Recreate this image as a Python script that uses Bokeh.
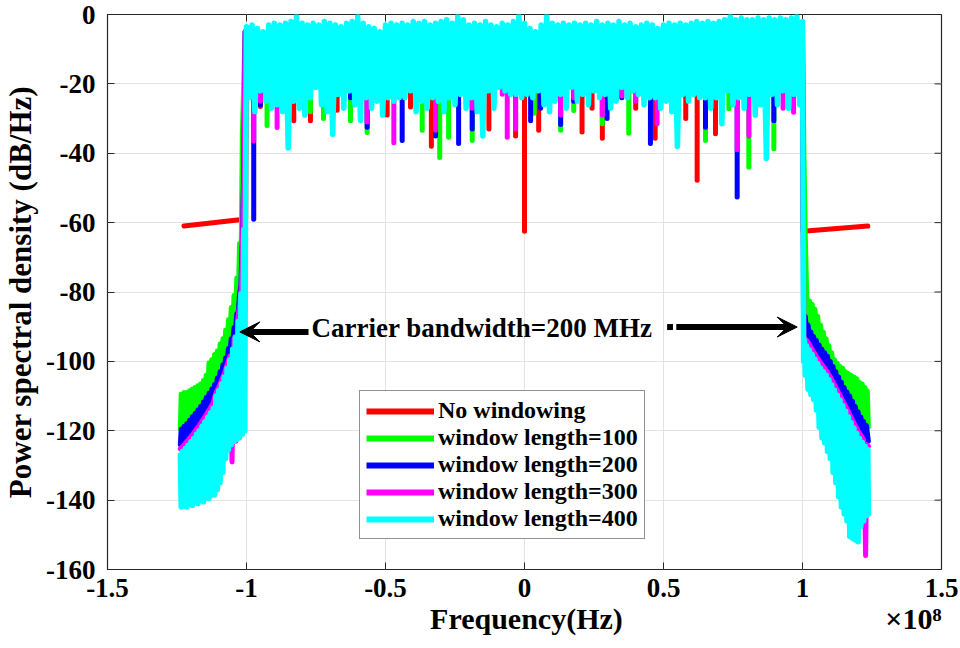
import numpy as np
from bokeh.plotting import figure
from bokeh.models import (Range1d, FixedTicker, Legend, LegendItem,
                          Label, Arrow, VeeHead, ColumnDataSource)
from bokeh.embed import file_html
from bokeh.resources import INLINE

# ---------------- data (frequency in MHz, PSD in dB/Hz) ----------------
x_ticks_hz = [-1.5e8, -1.0e8, -0.5e8, 0.0, 0.5e8, 1.0e8, 1.5e8]
x_tick_labels = ["-1.5", "-1", "-0.5", "0", "0.5", "1", "1.5"]
y_ticks = [-160, -140, -120, -100, -80, -60, -40, -20, 0]
y_tick_labels = ["-160", "-140", "-120", "-100", "-80", "-60", "-40", "-20", "0"]
x_label_text = "Frequency(Hz)"
x_exponent_text = "\u00d710\u2078"

series_names = ["No windowing", "window length=100", "window length=200",
                "window length=300", "window length=400"]
series_colors = ["#ff0000", "#00ff00", "#0000ff", "#ff00ff", "#00ffff"]

notch_top_db = -8.0

# No windowing (red)
red_left_f = [-122.5, -102.5, -100.3, -100.0]
red_left_db = [-61.0, -59.2, -59.0, -5.0]
red_right_f = [99.9, 100.2, 123.5]
red_right_db = [-5.0, -62.5, -61.0]
red_dip_f = [-95, -83, -77, -67.4, -49.4, -41, -33.5, -12.8, -3.2, 0, 5.1, 20.7,
             24.3, 28, 40, 47, 58, 62.1, 68.7]
red_dip_db = [-26.5, -30.6, -30.6, -27.6, -29, -26.7, -38, -33, -35, -62.5, -33.4,
              -33.9, -27, -35.7, -27, -35.7, -30, -47.8, -34.4]

# window length = 100 (green)
green_left_f = [-123.8, -123.5, -123, -122.5, -122, -121.5, -121, -120.5, -120, -119.5,
                -119, -118.5, -118, -117.5, -117, -116.5, -116, -115.5, -115, -114.5,
                -114, -113.5, -113, -112.5, -112, -111.5, -111, -110.5, -110, -109.5,
                -109, -108.5, -108, -107.5, -107, -106.5, -106, -105.5, -105, -104.5,
                -104, -103.5, -103, -102.5, -102, -101.5, -101, -100.5]
green_left_db = [-119.5, -109.5, -119, -109, -118.5, -109, -117.5, -108.5, -117, -108,
                 -115.5, -107.5, -115, -107, -113.5, -106.5, -112.5, -105.5, -111, -104,
                 -110, -100.5, -108, -99.5, -107, -98, -105.5, -97, -104, -95,
                 -102, -93.5, -100, -91, -97.5, -88, -95, -84.5, -92, -81,
                 -88.5, -76, -84, -66, -76, -35, -20, -5]
green_right_f = [100.0, 100.5, 101.0, 101.5, 102, 102.5, 103, 103.5, 104, 104.5, 105,
                 105.5, 106, 106.5, 107, 107.5, 108, 108.5, 109, 109.5, 110, 110.5, 111,
                 111.5, 112, 112.5, 113, 113.5, 114, 114.5, 115, 115.5, 116, 116.5, 117,
                 117.5, 118, 118.5, 119, 119.5, 120, 120.5, 121, 121.5, 122, 122.5, 123,
                 123.3, 123.7]
green_right_db = [-5, -40, -64, -80, -89, -82.5, -91, -83.5, -93, -85, -94,
                  -87, -95.5, -89.5, -96.5, -91.5, -97.5, -93.5, -98.5, -95.5, -100, -97.5,
                  -101.5, -99.5, -103, -100.5, -104.5, -101.5, -106, -102, -107.5, -103,
                  -109, -103.5, -110, -104, -111.5, -104.5, -113, -105, -114.5, -106, -116,
                  -106.5, -117, -107.5, -118.5, -108.5, -119]
green_dip_f = [-92.6, -77, -72.3, -62.6, -56.6, -36.8, -30.5, -27.3, -18.8, 3.5, 13,
               17.7, 28, 37.5, 65.1, 73.5, 80.7, 89.7]
green_dip_db = [-32, -28, -30, -30.6, -34, -33.4, -41.2, -35.4, -36.3, -28.5, -33.4,
                -27.7, -31.5, -34.2, -36.3, -27.2, -44, -38.7]

# window length = 200 (blue)
blue_left_f = [-123.8, -123.5, -123, -122.5, -122, -121.5, -121, -120.5, -120, -119.5,
               -119, -118.5, -118, -117.5, -117, -116.5, -116, -115.5, -115, -114.5,
               -114, -113.5, -113, -112.5, -112, -111.5, -111, -110.5, -110, -109.5,
               -109, -108.5, -108, -107.5, -107, -106.5, -106, -105.5, -105, -104.5,
               -104, -103.5, -103, -102.5, -102, -101.5, -101, -100.5]
blue_left_db = [-124, -119.6, -123.3, -118.8, -122.4, -118, -121.5, -117, -120.5, -116,
                -119.5, -115, -118.3, -114, -117.3, -113, -116, -111.7, -114.8, -110.4,
                -113.5, -109.2, -112.2, -108, -110.8, -106.7, -108, -104.8, -106.5, -103,
                -104.5, -101, -102.5, -99, -100, -96.3, -97.5, -93.5, -94.5, -90.3,
                -91, -86.3, -86.5, -80.5, -78, -65, -45, -5]
blue_right_f = [100.0, 100.4, 101, 101.5, 102, 102.5, 103, 103.5, 104, 104.5, 105, 105.5,
                106, 106.5, 107, 107.5, 108, 108.5, 109, 109.5, 110, 110.5, 111, 111.5,
                112, 112.5, 113, 113.5, 114, 114.5, 115, 115.5, 116, 116.5, 117, 117.5,
                118, 118.5, 119, 119.5, 120, 120.5, 121, 121.5, 122, 122.5, 123, 123.7]
blue_right_db = [-5, -97, -87, -92, -89.5, -93.5, -91.5, -95, -92.8, -96.5, -94, -97.8,
                 -95.3, -99, -96.5, -100, -97.5, -101.2, -98.5, -102.5, -100, -104, -101.5,
                 -105.5, -103, -107, -104.5, -108.5, -106, -110.2, -107.5, -111.8, -108.8,
                 -113.3, -110, -114.8, -111.5, -116.5, -113, -118, -114.5, -119.5, -116,
                 -120.7, -117.3, -122, -118.5, -123]
blue_dip_f = [-97.4, -95, -82, -62.6, -56.6, -44, -32, -23.7, -18.8, 2.2, 5.8, 13, 17.7,
              29.7, 35, 45.3, 65.1, 76.5, 89.7]
blue_dip_db = [-59, -26, -23, -24, -32.5, -36.3, -35, -37.2, -33, -30.6, -27, -31.7, -25,
               -30, -24, -37.2, -32.5, -52.6, -30.6]

# window length = 300 (magenta)
magenta_left_f = [-123.8, -123, -122, -121, -120, -119, -118, -117, -116, -115, -114,
                  -113, -112, -111, -110, -109, -108, -107, -106, -105.2, -104.5, -103.8,
                  -103.2, -102.5, -102, -101.5, -101, -100.5]
magenta_left_db = [-125.2, -124.5, -123.6, -122.7, -121.7, -120.7, -119.5, -118.5, -117.2,
                   -116, -114.7, -113.4, -112, -109, -107.5, -105.5, -103.5, -101, -98.5,
                   -129, -93.5, -123, -88, -84, -80, -68, -48, -5]
magenta_right_f = [100.0, 100.5, 102, 104, 106, 108, 110, 112, 114, 116, 118, 120, 122,
                   122.7, 123.2, 123.7]
magenta_right_db = [-5, -93, -94.5, -97.3, -99.8, -102, -104.5, -107.5, -110.6, -113.7,
                    -117, -120, -122.6, -156, -124, -124.5]
magenta_dip_f = [-97.4, -95, -89, -56.6, -47, -32, -18.8, -8, -6.2, -3.2, 13, 17.7, 28,
                 35, 40, 47.7, 76.5, 80.7, 93, 96.8]
magenta_dip_db = [-36.5, -25, -32.6, -31, -37, -33.4, -27, -23, -35.4, -33, -29, -24, -29,
                  -23.5, -25, -31.5, -39, -35, -27, -28.2]

# window length = 400 (cyan)
cyan_left_f = [-123.8, -123.5, -123, -122.5, -122, -121.5, -121, -120.5, -120, -119.5,
               -119, -118.5, -118, -117.5, -117, -116.5, -116, -115.5, -115, -114.5,
               -114, -113.5, -113, -112.5, -112, -111.5, -111, -110.5, -110, -109.5,
               -109, -108.5, -108, -107.5, -107, -106.5, -106, -105.5, -105, -104.5,
               -104, -103.5, -103, -102.5, -102, -101.5, -101, -100.6, -100.3]
cyan_left_db = [-127, -142, -126, -141.5, -125.1, -142, -124.2, -141, -123.2, -141.5,
                -122.2, -140.5, -121, -141, -120, -140, -118.7, -140.5, -117.5, -139.5,
                -116.2, -139.5, -114.9, -138.5, -113.5, -138.5, -110, -137, -108.5, -135,
                -106.5, -132, -104.5, -128, -102, -125.5, -99.5, -124, -96.5, -123,
                -93, -122.5, -88.5, -122, -80.5, -121, -62, -120, -40]
cyan_band_f = list(range(-100, 101))
cyan_band_db = [
    -3.5, -24, -3, -28, -4, -22, -5, -25, -3, -27,
    -2.5, -26, -3, -28, -2.5, -38.5, -2, -25, -0.5, -27,
    -2.5, -29, -3, -24, -2.5, -21, -3, -26, -2, -28,
    -2.5, -34.5, -3, -23, -3.5, -27, -2.5, -22, -2, -26,
    -0.5, -30.5, -2.5, -24, -3.5, -27, -4, -25, -5, -29,
    -3, -24, -2.5, -25, -3, -24, -2.5, -24, -3, -22,
    -2, -28, -2.5, -25, -2, -27, -3, -24, -2.5, -25,
    -2, -28, -1.5, -24, -2.5, -26, -0.5, -23, -1.5, -27,
    -3, -24, -2.5, -28, -3, -35, -2, -22, -3, -27,
    -3.5, -21, -2.5, -22, -3, -23, -2, -23, -0.5, -24,
    -2.5, -23, -4, -24, -5, -22, -3, -26, -0.5, -28,
    -2.5, -25, -3, -23, -2.5, -27, -3, -21, -2.5, -25,
    -3, -23, -2.5, -26, -3, -22, -2, -24, -3, -23,
    -2.5, -27, -3, -25, -2, -21, -3, -24, -2.5, -22,
    -3.5, -23, -3, -26, -2.5, -24, -3, -24, -4, -27,
    -3, -25, -2.5, -28, -3, -38, -2.5, -23, -3, -25,
    -2.5, -23, -2, -24, -2.5, -24, -2, -27, -2.5, -24,
    -2, -31.5, -1.5, -22, -0.5, -26, -1.5, -24, -1, -27,
    -1.5, -23, -1.5, -29, -1, -26, -1.5, -41.5, -1, -23,
    -1.5, -26, -1, -22, -1.5, -27, -1, -23, -0.5, -26,
    -2,
]
cyan_right_f = [100.4, 100.7, 101, 101.5, 102, 102.5, 103, 103.5, 104, 104.5, 105, 105.5,
                106, 106.5, 107, 107.5, 108, 108.5, 109, 109.5, 110, 110.5, 111, 111.5,
                112, 112.5, 113, 113.5, 114, 114.5, 115, 115.5, 116, 116.5, 117, 117.5,
                118, 118.5, 119, 119.5, 120, 120.5, 121, 121.5, 122, 122.5, 123, 123.5,
                123.7]
cyan_right_db = [-100, -94, -104, -95.5, -108, -96.7, -109.5, -98, -111, -99.4, -114,
                 -100.7, -119, -102, -122, -103, -123.5, -104, -126, -105.3, -128, -106.8,
                 -132, -108.3, -135, -109.8, -139, -111.2, -142, -112.8, -144, -114.4,
                 -146, -116, -150.5, -117.7, -151, -119.3, -151.5, -120.8, -152, -122.2,
                 -147.5, -123.4, -146, -124.5, -144.5, -125.5, -144]

# ---------------- figure ----------------
FONT = "Liberation Serif"
MHZ = 1e6
LW = 5
AXC = "#262626"
NBSP = "\u00a0"

p = figure(width=960, height=648, x_range=Range1d(-1.5e8, 1.5e8),
           y_range=Range1d(-160, 0), output_backend="svg", toolbar_location=None,
           min_border_left=107, min_border_right=19, min_border_top=14,
           min_border_bottom=79, background_fill_color="white",
           border_fill_color="white")

p.outline_line_color = AXC
p.outline_line_width = 1.2

for ax in (p.xaxis, p.yaxis):
    ax.axis_line_color = None
    ax.major_tick_in = 7
    ax.major_tick_out = 0
    ax.minor_tick_line_color = None
    ax.major_tick_line_color = AXC
    ax.major_label_text_font = FONT
    ax.major_label_text_font_style = "bold"
    ax.major_label_text_font_size = "27px"
    ax.major_label_text_color = "black"
    ax.axis_label_text_font = FONT
    ax.axis_label_text_font_style = "bold"
    ax.axis_label_text_color = "black"

p.xaxis.ticker = FixedTicker(ticks=x_ticks_hz)
p.xaxis.major_label_overrides = {t: l for t, l in zip(x_ticks_hz, x_tick_labels)}
p.xaxis.major_label_standoff = 9
# the axis title is centred under the box; the MATLAB-style exponent sits at the
# right end of the same text row (non-breaking spaces keep the two apart)
p.xaxis.axis_label = NBSP * 43 + x_label_text + NBSP * 35 + x_exponent_text
p.xaxis.axis_label_text_font_size = "30px"
p.xaxis.axis_label_standoff = 2

p.yaxis.ticker = FixedTicker(ticks=y_ticks)
p.yaxis.major_label_overrides = {t: l for t, l in zip(y_ticks, y_tick_labels)}
p.yaxis.major_label_standoff = 12
p.yaxis.axis_label = "Power spectral density (dB/Hz)"
p.yaxis.axis_label_text_font_size = "31px"
p.yaxis.axis_label_standoff = 5

p.xgrid.grid_line_color = "#e3e3e3"
p.ygrid.grid_line_color = "#e3e3e3"

# inward tick marks on the top and right edges of the box
p.segment(x0=x_ticks_hz, y0=[0.0] * len(x_ticks_hz), x1=x_ticks_hz,
          y1=[-2.0] * len(x_ticks_hz), line_color=AXC, line_width=1)
p.segment(x0=[1.5e8] * len(y_ticks), y0=y_ticks, x1=[1.475e8] * len(y_ticks),
          y1=y_ticks, line_color=AXC, line_width=1)


def hz(values):
    return [v * MHZ for v in values]


def draw_series(color, left_f, left_db, right_f, right_db, dip_f, dip_db):
    p.line(hz(left_f), left_db, line_color=color, line_width=LW,
           line_join="round", line_cap="round")
    p.line(hz(right_f), right_db, line_color=color, line_width=LW,
           line_join="round", line_cap="round")
    src = ColumnDataSource(dict(x=hz(dip_f), y0=[notch_top_db] * len(dip_f), y1=dip_db))
    p.segment(x0="x", y0="y0", x1="x", y1="y1", source=src, line_color=color,
              line_width=LW, line_cap="round")


draw_series(series_colors[0], red_left_f, red_left_db, red_right_f, red_right_db,
            red_dip_f, red_dip_db)
draw_series(series_colors[1], green_left_f, green_left_db, green_right_f, green_right_db,
            green_dip_f, green_dip_db)
draw_series(series_colors[2], blue_left_f, blue_left_db, blue_right_f, blue_right_db,
            blue_dip_f, blue_dip_db)
draw_series(series_colors[3], magenta_left_f, magenta_left_db, magenta_right_f,
            magenta_right_db, magenta_dip_f, magenta_dip_db)

cyan_f = cyan_left_f + cyan_band_f + cyan_right_f
cyan_db = cyan_left_db + cyan_band_db + cyan_right_db
p.line(hz(cyan_f), cyan_db, line_color=series_colors[4], line_width=5.5,
       line_join="round", line_cap="round")

# legend samples (drawn off-range so only the legend shows them, thicker as in original)
items = []
for name, color in zip(series_names, series_colors):
    r = p.line(x=[0.0, 1.0], y=[1000.0, 1000.0], line_color=color, line_width=6)
    items.append(LegendItem(label=name, renderers=[r]))
legend = Legend(items=items, location=(252, 30), orientation="vertical",
                border_line_color=AXC, border_line_width=1.5,
                background_fill_color="white", background_fill_alpha=1.0,
                label_text_font=FONT, label_text_font_style="bold",
                label_text_font_size="24px", label_text_color="black",
                glyph_width=68, glyph_height=24, label_height=24, spacing=0,
                padding=6, label_standoff=4, margin=0)
p.add_layout(legend)

# annotation
p.add_layout(Label(x=-15.3 * MHZ, y=-90.5, text="Carrier bandwidth=200 MHz",
                   text_font=FONT, text_font_style="bold", text_font_size="27px",
                   text_align="center", text_baseline="middle", text_color="black"))
p.add_layout(Arrow(end=VeeHead(size=20, fill_color="black", line_color="black"),
                   x_start=-77.7 * MHZ, y_start=-91.5, x_end=-102.4 * MHZ, y_end=-91.5,
                   line_width=6, line_color="black"))
p.segment(x0=[51.3 * MHZ], y0=[-90.1], x1=[53.4 * MHZ], y1=[-90.1],
          line_color="black", line_width=6)
p.add_layout(Arrow(end=VeeHead(size=20, fill_color="black", line_color="black"),
                   x_start=54.6 * MHZ, y_start=-90.1, x_end=98.1 * MHZ, y_end=-90.1,
                   line_width=6, line_color="black"))

open("out.html", "w").write(file_html(p, INLINE))
